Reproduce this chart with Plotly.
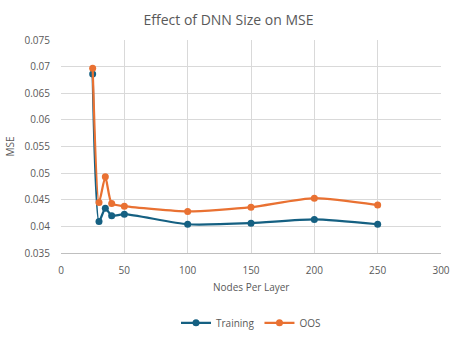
import plotly.graph_objects as go

nodes = [25, 30, 35, 40, 50, 100, 150, 200, 250]
training = [0.0686, 0.0409, 0.0434, 0.0420, 0.0423, 0.0404, 0.0406, 0.0413, 0.0404]
oos = [0.0697, 0.0445, 0.0493, 0.0443, 0.0438, 0.0428, 0.0436, 0.0453, 0.0440]

x_ticks = [0, 50, 100, 150, 200, 250, 300]
y_ticks = [0.035, 0.04, 0.045, 0.05, 0.055, 0.06, 0.065, 0.07, 0.075]
y_labels = ["0.035", "0.04", "0.045", "0.05", "0.055", "0.06", "0.065", "0.07", "0.075"]

font_family = "Open Sans, Liberation Sans, sans-serif"
grey = "#595959"

fig = go.Figure()
fig.add_trace(go.Scatter(x=nodes, y=training, name="Training", mode="lines+markers",
                         line=dict(color="#156082", width=2.25, shape="spline", smoothing=0.6),
                         marker=dict(size=7, color="#156082")))
fig.add_trace(go.Scatter(x=nodes, y=oos, name="OOS", mode="lines+markers",
                         line=dict(color="#E97132", width=2.25, shape="spline", smoothing=0.6),
                         marker=dict(size=7, color="#E97132")))

fig.update_layout(
    width=457, height=337,
    margin=dict(l=61, r=16, t=40, b=84),
    paper_bgcolor="white", plot_bgcolor="white",
    font=dict(family=font_family, color=grey, size=10),
    title=dict(text="Effect of DNN Size on MSE", x=0.5, xanchor="center", y=0.94, yanchor="middle",
               font=dict(size=14, color=grey, family=font_family)),
    xaxis=dict(range=[0, 300], tickvals=x_ticks, ticktext=[str(v) for v in x_ticks],
               showgrid=True, gridcolor="#D9D9D9", gridwidth=1, zeroline=False,
               showline=True, linecolor="#BFBFBF", linewidth=1, automargin=False,
               ticks="outside", ticklen=8, tickcolor="rgba(0,0,0,0)"),
    yaxis=dict(range=[0.035, 0.075], tickvals=y_ticks, ticktext=y_labels,
               showgrid=True, gridcolor="#D9D9D9", gridwidth=1, zeroline=False, automargin=False,
               showline=False, ticks="outside", ticklen=8, tickcolor="rgba(0,0,0,0)",
               title=dict(text="MSE", font=dict(size=10, color=grey), standoff=8)),
    legend=dict(orientation="h", x=0.5, xanchor="center", yref="container", y=0.042, yanchor="middle",
                font=dict(size=10, color=grey)),
    annotations=[dict(text="Nodes Per Layer", xref="paper", x=0.5, xanchor="center",
                      yref="paper", y=-0.16, yanchor="middle", showarrow=False,
                      font=dict(size=10, color=grey))],
)

fig.write_html("out.html")
